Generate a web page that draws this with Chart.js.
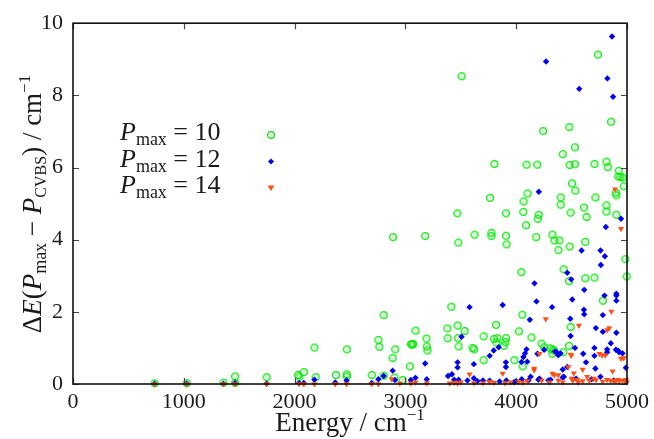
<!DOCTYPE html>
<html>
<head>
<meta charset="utf-8">
<script src="https://cdn.jsdelivr.net/npm/chart.js@4.4.1/dist/chart.umd.min.js"></script>
<style>
  html, body { margin: 0; padding: 0; background: #fff; }
  canvas { display: block; }
</style>
</head>
<body>
<canvas id="chart" width="654" height="439"></canvas>
<script>
// tick values
const X_TICKS = [0, 1000, 2000, 3000, 4000, 5000];
const Y_TICKS = [0, 2, 4, 6, 8, 10];
const LEGEND_VALUES = ['10', '12', '14'];

// [energy / cm-1, deltaE / cm-1]
const P10_POINTS = [
    [736, 0.02], [1026, 0.02], [1358, 0.04], [1463, 0.21], [1463, 0.03], [1748, 0.19],
    [2031, 0.25], [2043, 0.20], [2083, 0.33], [2179, 1.01], [2190, 0.19], [2373, 0.25],
    [2471, 0.96], [2469, 0.27], [2471, 0.21], [2696, 0.25], [2756, 1.22], [2765, 1.03],
    [2804, 1.91], [2804, 0.23], [2885, 0.72], [2900, 0.18], [2908, 0.96], [2887, 4.07],
    [2974, 0.11], [3040, 0.49], [3050, 1.10], [3061, 1.09], [3070, 1.11], [3091, 1.48],
    [3178, 4.10], [3190, 1.26], [3193, 1.04], [3199, 0.93], [3378, 1.54], [3381, 1.27],
    [3414, 2.14], [3468, 4.73], [3471, 1.62], [3474, 1.27], [3477, 3.92], [3480, 1.04],
    [3507, 8.53], [3534, 1.47], [3606, 1.00], [3620, 0.96], [3624, 4.14], [3705, 1.32],
    [3705, 0.66], [3764, 5.16], [3776, 4.19], [3776, 4.10], [3803, 6.10], [3800, 1.25],
    [3818, 1.64], [3821, 1.15], [3830, 1.27], [3887, 1.06], [3902, 1.16], [3907, 1.27],
    [3907, 4.73], [3907, 4.11], [3913, 3.87], [3983, 0.66], [4024, 1.46], [4046, 3.10],
    [4055, 1.92], [4058, 0.49], [4066, 5.06], [4064, 4.77], [4089, 4.40], [4093, 6.08],
    [4102, 5.28], [4138, 1.29], [4180, 4.07], [4189, 6.08], [4195, 4.58], [4204, 4.69],
    [4228, 1.12], [4243, 7.01], [4252, 1.02], [4303, 0.99], [4327, 0.96], [4327, 0.84],
    [4342, 0.93], [4327, 4.14], [4345, 3.98], [4381, 3.71], [4390, 3.98], [4401, 5.17],
    [4401, 4.97], [4419, 6.37], [4425, 0.88], [4428, 3.18], [4477, 1.06], [4477, 2.85],
    [4479, 7.12], [4482, 6.07], [4482, 3.81], [4491, 1.58], [4491, 4.75], [4504, 5.56],
    [4530, 6.56], [4530, 6.09], [4533, 5.36], [4611, 4.89], [4623, 3.94], [4623, 2.93],
    [4635, 4.63], [4706, 6.10], [4706, 2.95], [4715, 5.17], [4737, 9.13], [4782, 2.31],
    [4814, 6.16], [4814, 4.95], [4814, 4.78], [4826, 6.01], [4856, 7.27], [4898, 5.30],
    [4904, 5.23], [4904, 4.69], [4920, 5.75], [4925, 5.91], [4940, 5.74], [4960, 5.72],
    [4970, 5.48], [4985, 3.46], [4997, 2.98]
];

const P12_POINTS = [
    [736, 0.01], [1026, 0.01], [1358, 0.01], [1463, 0.03], [1748, 0.01], [2040, 0.03],
    [2083, 0.03], [2179, 0.12], [2367, 0.04], [2469, 0.10], [2696, 0.03], [2756, 0.13],
    [2804, 0.22], [2885, 0.37], [2906, 0.11], [3049, 0.11], [3091, 0.17], [3178, 0.57],
    [3193, 0.13], [3385, 0.22], [3420, 0.27], [3440, 0.12], [3471, 0.60], [3471, 0.46],
    [3480, 0.12], [3507, 1.31], [3560, 0.10], [3579, 2.13], [3618, 0.55], [3618, 0.16],
    [3650, 0.08], [3700, 0.10], [3760, 0.09], [3761, 0.78], [3797, 0.93], [3842, 1.02],
    [3850, 0.07], [3878, 2.19], [3907, 0.60], [3907, 0.47], [3911, 0.10], [3980, 0.05],
    [4000, 0.08], [4048, 0.61], [4050, 0.13], [4065, 0.75], [4080, 0.85], [4093, 0.96],
    [4100, 0.62], [4110, 0.10], [4123, 1.78], [4130, 0.20], [4165, 2.79], [4183, 2.29],
    [4192, 0.84], [4200, 0.12], [4204, 5.33], [4210, 0.15], [4252, 0.95], [4270, 8.94],
    [4290, 0.10], [4310, 0.12], [4324, 2.13], [4350, 0.90], [4365, 0.88], [4380, 0.80],
    [4400, 0.85], [4420, 0.40], [4420, 0.18], [4430, 0.20], [4461, 3.08], [4461, 0.47],
    [4488, 1.81], [4491, 1.33], [4497, 2.90], [4506, 2.34], [4530, 1.00], [4540, 0.15],
    [4569, 8.18], [4590, 3.70], [4605, 0.84], [4611, 2.06], [4614, 1.93], [4614, 2.61],
    [4630, 0.60], [4680, 0.13], [4706, 1.00], [4706, 0.78], [4715, 0.43], [4719, 1.55],
    [4760, 0.20], [4761, 3.70], [4764, 3.30], [4782, 1.45], [4782, 1.91], [4797, 2.45],
    [4800, 3.54], [4809, 4.35], [4821, 0.96], [4821, 0.88], [4823, 8.47], [4854, 1.13],
    [4865, 9.63], [4874, 7.96], [4880, 0.10], [4900, 0.95], [4904, 2.50], [4904, 2.45],
    [4904, 2.31], [4904, 1.42], [4920, 0.92], [4930, 0.88], [4946, 4.58], [4960, 0.85],
    [4990, 0.45]
];

const P14_POINTS = [
    [736, 0], [1026, 0], [1358, 0], [1463, 0], [1748, 0], [2040, 0], [2083, 0], [2179, 0],
    [2367, 0], [2469, 0], [2696, 0], [2756, 0], [2876, 0.14], [2950, 0.02], [3049, 0.02],
    [3091, 0.05], [3193, 0.02], [3400, 0.02], [3440, 0.04], [3470, 0.02], [3500, 0.05],
    [3579, 0.27], [3620, 0.03], [3700, 0.03], [3760, 0.06], [3800, 0.04], [3878, 0.29],
    [3900, 0.03], [3950, 0.05], [4020, 0.06], [4060, 0.04], [4100, 0.08], [4162, 0.38],
    [4162, 0.43], [4210, 0.84], [4230, 0.10], [4267, 1.80], [4300, 0.05], [4327, 0.29],
    [4345, 0.25], [4380, 0.10], [4380, 0.25], [4420, 0.05], [4470, 0.47], [4491, 0.82],
    [4497, 0.79], [4500, 0.15], [4510, 0.10], [4520, 0.30], [4550, 0.12], [4560, 0.05],
    [4566, 1.62], [4600, 0.08], [4600, 0.40], [4640, 0.20], [4660, 0.09], [4700, 0.15],
    [4720, 0.11], [4751, 0.84], [4776, 0.80], [4780, 0.07], [4805, 0.80], [4820, 0.12],
    [4821, 1.50], [4840, 1.55], [4850, 0.10], [4859, 2.01], [4870, 0.35], [4880, 0.09],
    [4892, 5.40], [4900, 0.10], [4920, 0.12], [4930, 0.08], [4946, 4.30], [4946, 0.71],
    [4960, 0.10], [4970, 0.72], [4980, 0.08], [4990, 0.12], [5000, 0.05]
];

const GREEN = '#00e600';
const BLUE = '#0000f0';
const ORANGE = '#ff4f14';
const TEXT = '#1a1a1a';
const SERIF = '"Liberation Serif", "Times New Roman", serif';

const roman = size => `${size}px ${SERIF}`;
const italic = size => `italic ${size}px ${SERIF}`;

// open circle with a dot in the middle (gnuplot style)
function makeRingMarker() {
    const c = document.createElement('canvas');
    c.width = 10;
    c.height = 10;
    const g = c.getContext('2d');
    g.strokeStyle = GREEN;
    g.lineWidth = 1.3;
    g.beginPath();
    g.arc(5, 5, 3.4, 0, Math.PI * 2);
    g.stroke();
    g.fillStyle = GREEN;
    g.fillRect(4.5, 4.5, 1, 1);
    return c;
}
const ringMarker = makeRingMarker();

function toXY(points) {
    return points.map(p => ({ x: p[0], y: p[1] }));
}

// draws a list of text pieces one after another (for sub/superscripts)
function drawRuns(ctx, runs, x, y, center) {
    let total = 0;
    runs.forEach(r => {
        ctx.font = r.font;
        r.w = ctx.measureText(r.t).width;
        total += r.w;
    });
    let cx = center ? x - total / 2 : x;
    runs.forEach(r => {
        ctx.font = r.font;
        ctx.fillText(r.t, cx, y + (r.dy || 0));
        cx += r.w;
    });
}

function drawMarker(ctx, kind, x, y) {
    if (kind === 0) {
        ctx.drawImage(ringMarker, x - 5, y - 5);
    } else if (kind === 1) {
        ctx.fillStyle = BLUE;
        ctx.beginPath();
        ctx.moveTo(x, y - 3);
        ctx.lineTo(x + 3, y);
        ctx.lineTo(x, y + 3);
        ctx.lineTo(x - 3, y);
        ctx.closePath();
        ctx.fill();
    } else {
        ctx.fillStyle = ORANGE;
        ctx.beginPath();
        ctx.moveTo(x - 3.5, y - 2.5);
        ctx.lineTo(x + 3.5, y - 2.5);
        ctx.lineTo(x, y + 3);
        ctx.closePath();
        ctx.fill();
    }
}

const framePlugin = {
    id: 'frame',
    afterDatasetsDraw(chart) {
        const ctx = chart.ctx;
        const a = chart.chartArea;
        const xs = chart.scales.x;
        const ys = chart.scales.y;
        ctx.save();

        // inward ticks, mirrored on top and right
        ctx.strokeStyle = '#444';
        ctx.lineWidth = 1.2;
        ctx.beginPath();
        X_TICKS.forEach(v => {
            const px = Math.round(xs.getPixelForValue(v)) + 0.5;
            ctx.moveTo(px, a.bottom);
            ctx.lineTo(px, a.bottom - 6);
            ctx.moveTo(px, a.top);
            ctx.lineTo(px, a.top + 6);
        });
        Y_TICKS.forEach(v => {
            const py = Math.round(ys.getPixelForValue(v)) + 0.5;
            ctx.moveTo(a.left, py);
            ctx.lineTo(a.left + 6, py);
            ctx.moveTo(a.right, py);
            ctx.lineTo(a.right - 6, py);
        });
        ctx.stroke();

        ctx.strokeStyle = '#111';
        ctx.lineWidth = 1.6;
        ctx.strokeRect(a.left, a.top, a.right - a.left, a.bottom - a.top);

        // legend
        ctx.textBaseline = 'alphabetic';
        LEGEND_VALUES.forEach((val, i) => {
            const base = 140 + i * 26.5;
            ctx.fillStyle = TEXT;
            drawRuns(ctx, [
                { t: 'P', font: italic(26) },
                { t: 'max', font: roman(18), dy: 5 },
                { t: ' = ' + val, font: roman(26) }
            ], 120, base, false);
            drawMarker(ctx, i, 271, base - 5);
        });

        // axis titles
        ctx.fillStyle = TEXT;
        drawRuns(ctx, [
            { t: 'Energy / cm', font: roman(27) },
            { t: '\u22121', font: roman(17), dy: -11 }
        ], 350, 431, true);

        ctx.translate(41, 204);
        ctx.rotate(-Math.PI / 2);
        drawRuns(ctx, [
            { t: '\u0394', font: roman(27) },
            { t: 'E', font: italic(27) },
            { t: '(', font: roman(27) },
            { t: 'P', font: italic(27) },
            { t: 'max', font: roman(18), dy: 5 },
            { t: ' \u2212 ', font: roman(27) },
            { t: 'P', font: italic(27) },
            { t: 'CVBS', font: roman(16), dy: 5 },
            { t: ') / cm', font: roman(27) },
            { t: '\u22121', font: roman(17), dy: -11 }
        ], 0, 0, true);
        ctx.restore();
    }
};

const tickFont = { family: SERIF, size: 22 };

new Chart(document.getElementById('chart'), {
    type: 'scatter',
    data: {
        datasets: [
            {
                label: 'Pmax = 10',
                data: toXY(P10_POINTS),
                pointStyle: ringMarker,
                pointRadius: 4,
                order: 3,
                clip: false
            },
            {
                label: 'Pmax = 12',
                data: toXY(P12_POINTS),
                pointStyle: 'rectRot',
                pointRadius: 3.2,
                backgroundColor: BLUE,
                borderColor: BLUE,
                borderWidth: 0,
                order: 2,
                clip: false
            },
            {
                label: 'Pmax = 14',
                data: toXY(P14_POINTS),
                pointStyle: 'triangle',
                rotation: 180,
                pointRadius: 3.5,
                backgroundColor: ORANGE,
                borderColor: ORANGE,
                borderWidth: 0,
                order: 1,
                clip: false
            }
        ]
    },
    options: {
        responsive: false,
        animation: false,
        events: [],
        layout: { padding: { top: 20, right: 24, left: 0, bottom: 0 } },
        plugins: {
            legend: { display: false },
            tooltip: { enabled: false }
        },
        scales: {
            x: {
                type: 'linear',
                min: 0,
                max: 5000,
                afterBuildTicks: s => { s.ticks = X_TICKS.map(v => ({ value: v })); },
                afterFit: s => { s.height = 55; },
                grid: { display: false, drawTicks: false },
                border: { display: false },
                ticks: { color: TEXT, font: tickFont, padding: 5, maxRotation: 0, callback: v => String(v) }
            },
            y: {
                type: 'linear',
                min: 0,
                max: 10,
                afterBuildTicks: s => { s.ticks = Y_TICKS.map(v => ({ value: v })); },
                afterFit: s => { s.width = 73; },
                grid: { display: false, drawTicks: false },
                border: { display: false },
                ticks: { color: TEXT, font: tickFont, padding: 10, callback: v => String(v) }
            }
        }
    },
    plugins: [framePlugin]
});
</script>
</body>
</html>
